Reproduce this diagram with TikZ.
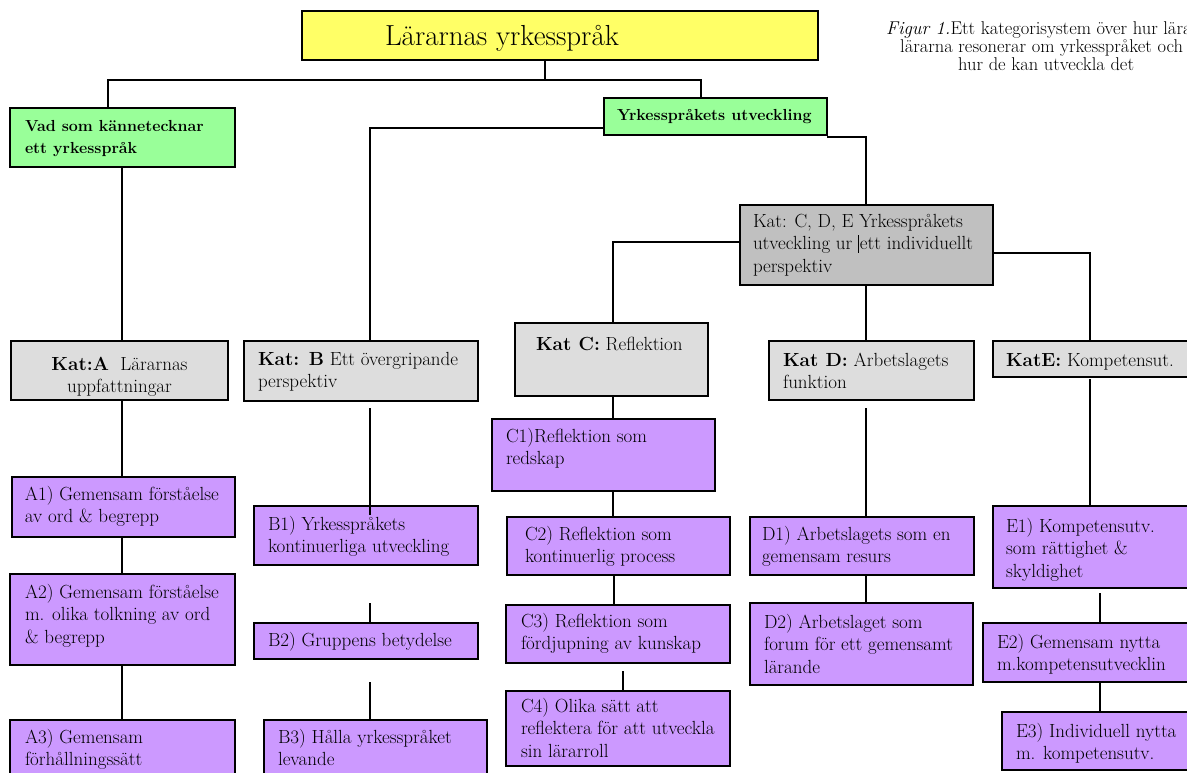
\documentclass[tikz,border=0pt]{standalone}
\usepackage{fontspec}
\usetikzlibrary{calc}
\definecolor{ttl}{HTML}{FFFF66}
\definecolor{grn}{HTML}{99FF99}
\definecolor{gry}{HTML}{C0C0C0}
\definecolor{lgr}{HTML}{DDDDDD}
\definecolor{pur}{HTML}{CC99FF}
\newcommand\bodyfont{\fontsize{19}{22.5}\selectfont}
\newcommand\titlefont{\fontsize{29}{32}\selectfont}
\newcommand\grnfont{\fontsize{16}{21}\selectfont\bfseries}
\newcommand\capfont{\fontsize{18.5}{18}\selectfont}
% width, height, left pad, first-baseline offset, text
\newcommand\bx[5]{\hspace*{#3pt}\parbox[t][#2pt][t]{\dimexpr#1pt-#3pt\relax}{\raggedright\hyphenpenalty=10000\rule{0pt}{#4pt}#5}}
\tikzset{
  box/.style={draw=black, anchor=north west, inner sep=0pt, outer sep=0pt, line width=2pt, font=\bodyfont},
  gbox/.style={box, line width=1.4pt},
  conn/.style={line width=1.8pt, black},
  captxt/.style={anchor=base west, inner sep=0pt, font=\capfont}
}
\begin{document}
\begin{tikzpicture}[x=1pt,y=-1pt]
\useasboundingbox (0,0) rectangle (1187,773);
\fill[white] (0,0) rectangle (1187,773);

% caption
\node[captxt] (cap1) at (886,35) {\textit{Figur 1.}Ett kategorisystem över hur lära};
\node[captxt] (cap2) at (900,53) {lärarna resonerar om yrkesspråket och};
\node[captxt] (cap3) at (958,71) {hur de kan utveckla det};

% boxes
\node[box,fill=ttl,font=\titlefont] (T) at (302,11) {\bx{516}{49}{83}{35}{Lärarnas yrkesspråk}};
\node[box,fill=grn,font=\grnfont] (G1) at (10,108) {\bx{225}{59}{15}{24}{Vad som kännetecknar\\ett yrkesspråk}};
\node[box,fill=grn,font=\grnfont] (G2) at (604,98) {\bx{223}{37}{13}{23}{Yrkesspråkets utveckling}};
\node[gbox,fill=gry] (CDE) at (740,205) {\bx{253}{80}{13}{22}{Kat: C, D, E Yrkesspråkets\\utveckling ur \rule[-3pt]{1.2pt}{17pt}\kern0.5pt ett individuellt\\perspektiv}};

\node[gbox,fill=lgr] (KA) at (11,341) {\bx{217}{59}{0}{29}{\centering\textbf{Kat:A}\ \ Lärarnas\\uppfattningar}};
\node[gbox,fill=lgr] (KB) at (244,341) {\bx{234}{60}{14}{24}{\textbf{Kat: B} Ett övergripande\\perspektiv}};
\node[gbox,fill=lgr] (KC) at (515,323) {\bx{193}{73}{21}{27}{\textbf{Kat C:} Reflektion}};
\node[gbox,fill=lgr] (KD) at (769,341) {\bx{205}{59}{14}{25}{\textbf{Kat D:} Arbetslagets\\funktion}};
\node[gbox,fill=lgr] (KE) at (993,341) {\bx{200}{36}{13}{25}{\textbf{KatE:} Kompetensut.}};

\node[box,fill=pur] (A1) at (12,477) {\bx{223}{60}{13}{23}{A1) Gemensam förståelse\\av ord \& begrepp}};
\node[box,fill=pur] (A2) at (10,574) {\bx{225}{91}{15}{24}{A2) Gemensam förståelse\\m. olika tolkning av ord\\\& begrepp}};
\node[box,fill=pur] (A3) at (10,720) {\bx{225}{60}{15}{23}{A3) Gemensam\\förhållningssätt}};

\node[box,fill=pur] (B1) at (254,506) {\bx{224}{59}{14}{24}{B1) Yrkesspråkets\\kontinuerliga utveckling}};
\node[box,fill=pur] (B2) at (254,623) {\bx{224}{36}{14}{23}{B2) Gruppens betydelse}};
\node[box,fill=pur] (B3) at (264,720) {\bx{223}{60}{14}{23}{B3) Hålla yrkesspråket\\levande}};

\node[box,fill=pur] (C1) at (492,419) {\bx{223}{72}{14}{23}{C1)Reflektion som\\redskap}};
\node[box,fill=pur] (C2) at (507,517) {\bx{223}{58}{18}{23}{C2) Reflektion som\\kontinuerlig process}};
\node[box,fill=pur] (C3) at (506,605) {\bx{224}{58}{15}{22}{C3) Reflektion som\\fördjupning av kunskap}};
\node[box,fill=pur] (C4) at (506,691) {\bx{224}{75}{15}{21}{C4) Olika sätt att\\reflektera för att utveckla\\sin lärarroll}};

\node[box,fill=pur] (D1) at (750,517) {\bx{224}{58}{12}{23}{D1) Arbetslagets som en\\gemensam resurs}};
\node[box,fill=pur] (D2) at (750,603) {\bx{223}{82}{14}{25}{D2) Arbetslaget som\\forum för ett gemensamt\\lärande}};

\node[box,fill=pur] (E1) at (993,506) {\bx{200}{82}{13}{26}{E1) Kompetensutv.\\som rättighet \&\\skyldighet}};
\node[box,fill=pur] (E2) at (983,623) {\bx{210}{59}{14}{25}{E2) Gemensam nytta\\m.kompetensutvecklin}};
\node[box,fill=pur] (E3) at (1002,712) {\bx{190}{58}{14}{25}{E3) Individuell nytta\\m. kompetensutv.}};

% column coordinates
\coordinate (j) at (545,80);
\coordinate (cG1) at (108,0);
\coordinate (cG2) at (701,0);
\coordinate (cA) at (122,0);
\coordinate (cB) at (370,0);
\coordinate (cC) at (613,0);
\coordinate (cC2) at (614,0);
\coordinate (cC3) at (623,0);
\coordinate (cD) at (866,0);
\coordinate (cE) at (1090,0);
\coordinate (cE2) at (1100,0);

% connectors
\draw[conn] (T.south -| j) -- (j);
\draw[conn] (j) -| (G1.north -| cG1);
\draw[conn] (j) -| (G2.north -| cG2);
\draw[conn] ([yshift=7pt]G2.south west) -| (KB.north -| cB);
\draw[conn] ([yshift=-2pt]G2.south east) -| (CDE.north -| cD);
\draw[conn] (G1.south -| cA) -- (KA.north -| cA);
\draw[conn] ([yshift=3pt]CDE.west) -| (KC.north -| cC);
\draw[conn] ([yshift=-8pt]CDE.east) -| (KE.north -| cE);
\draw[conn] (CDE.south -| cD) -- (KD.north -| cD);

\draw[conn] (KA.south -| cA) -- (A1.north -| cA);
\draw[conn] (A1.south -| cA) -- (A2.north -| cA);
\draw[conn] (A2.south -| cA) -- (A3.north -| cA);

\draw[conn, shorten <=7pt, shorten >=-9pt] (KB.south -| cB) -- (B1.north -| cB);
\draw[conn, shorten <=38pt] (B1.south -| cB) -- (B2.north -| cB);
\draw[conn, shorten <=23pt] (B2.south -| cB) -- (B3.north -| cB);

\draw[conn] (KC.south -| cC) -- (C1.north -| cC);
\draw[conn] (C1.south -| cC) -- (C2.north -| cC);
\draw[conn] (C2.south -| cC2) -- (C3.north -| cC2);
\draw[conn, shorten <=8pt] (C3.south -| cC3) -- (C4.north -| cC3);

\draw[conn, shorten <=8pt] (KD.south -| cD) -- (D1.north -| cD);
\draw[conn] (D1.south -| cD) -- (D2.north -| cD);

\draw[conn, shorten <=2pt] (KE.south -| cE) -- (E1.north -| cE);
\draw[conn, shorten <=5pt] (E1.south -| cE2) -- (E2.north -| cE2);
\draw[conn] (E2.south -| cE2) -- (E3.north -| cE2);
\end{tikzpicture}
\end{document}
